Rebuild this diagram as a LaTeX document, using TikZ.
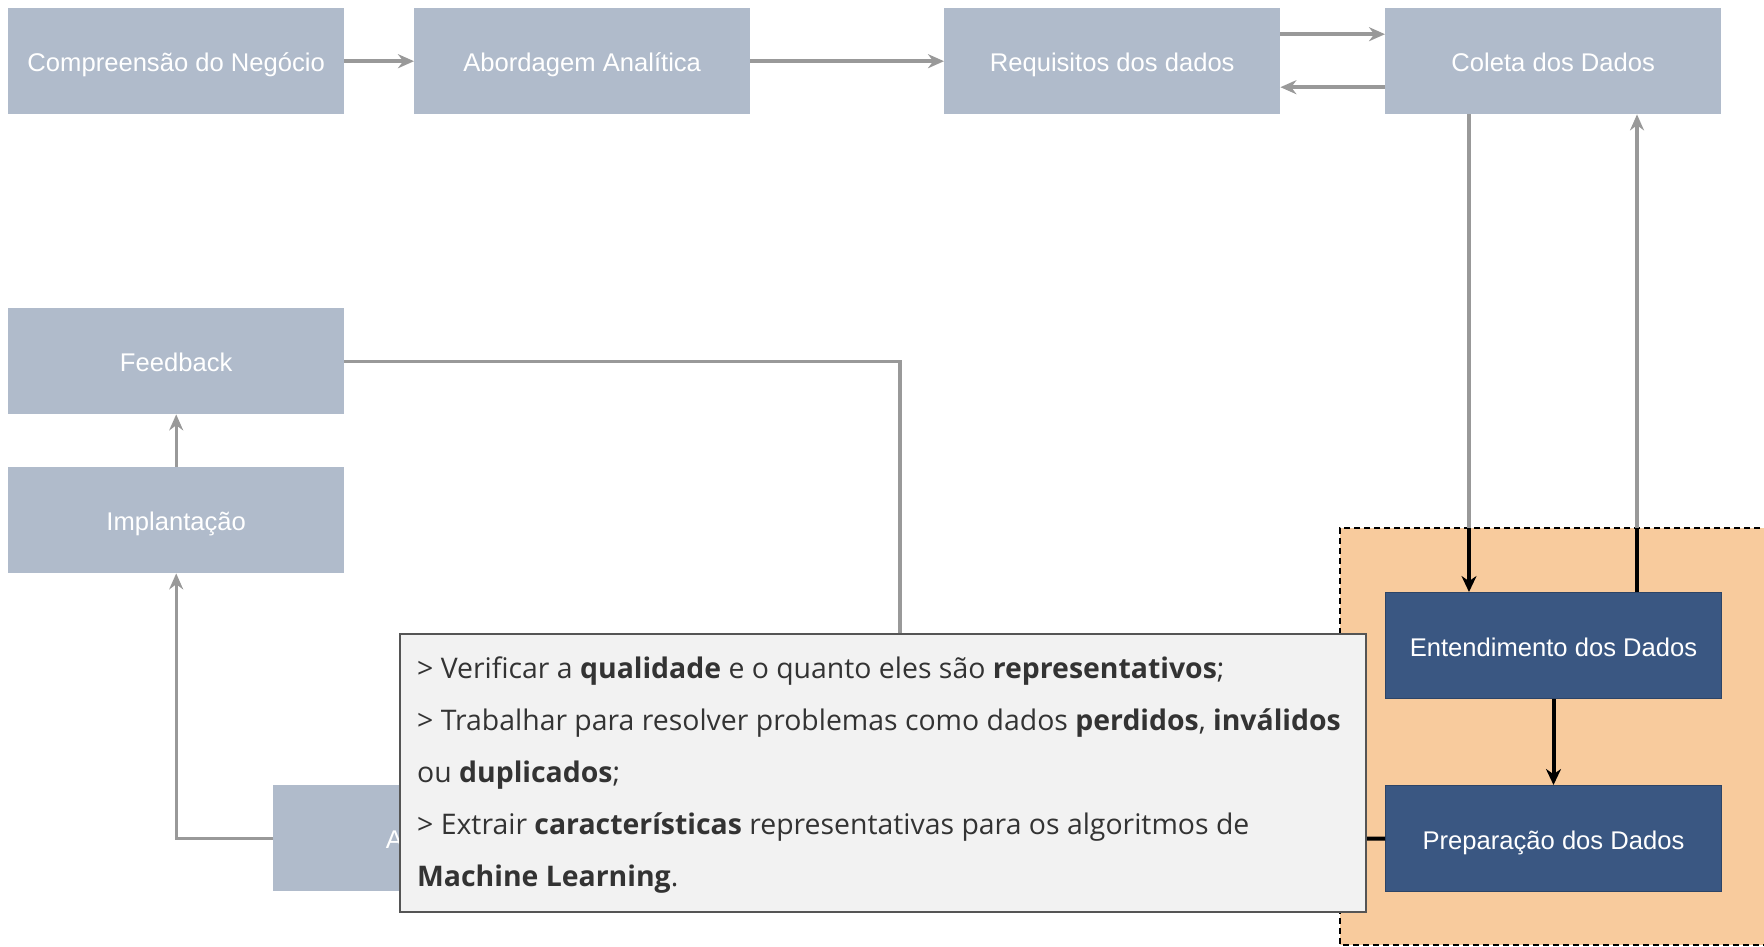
\documentclass[tikz,border=0pt]{standalone}
\usepackage{fontspec}
\setmainfont{Liberation Sans}
\newfontfamily\tipfont{Open Sans}
\usetikzlibrary{arrows.meta}
\definecolor{boxgrey}{HTML}{B0BBCB}
\definecolor{edgegrey}{HTML}{999999}
\definecolor{darkblue}{HTML}{3A5782}
\definecolor{darkbluebd}{HTML}{2D4466}
\definecolor{orangebg}{HTML}{F8CB9D}
\definecolor{tipfill}{HTML}{F2F2F2}
\definecolor{tipborder}{HTML}{555555}
\definecolor{tiptext}{HTML}{333333}
\tikzset{
  greybox/.style={fill=boxgrey, draw=none, text=white, anchor=north west, inner sep=0pt,
    minimum width=336pt, minimum height=106pt, font=\fontsize{25.6}{30}\selectfont,
    text height=21pt, text depth=0pt},
  bluebox/.style={fill=darkblue, draw=darkbluebd, line width=1pt, text=white, anchor=north west, inner sep=0pt,
    minimum width=336pt, minimum height=106pt, font=\fontsize{25.6}{30}\selectfont,
    text height=21pt, text depth=0pt},
  greyline/.style={draw=edgegrey, line width=3.4pt},
  greyarrow/.style={greyline, -{Stealth[length=16pt,width=14pt]}},
  blackline/.style={draw=black, line width=4pt},
  blackarrow/.style={blackline, -{Stealth[length=16pt,width=15pt]}},
}
\begin{document}
\begin{tikzpicture}[x=1pt,y=-1pt]
\useasboundingbox (0,0) rectangle (1764,947);
% orange region
\fill[orangebg] (1340,528) rectangle (1764,945);
\draw[black, line width=2pt, dash pattern=on 6pt off 4pt] (1770,528) -- (1340,528) -- (1340,945) -- (1770,945);

% nodes
\node[greybox] (comp) at (8,8) {Compreensão do Negócio};
\node[greybox] (abord) at (414,8) {Abordagem Analítica};
\node[greybox] (req) at (944,8) {Requisitos dos dados};
\node[greybox] (col) at (1385,8) {Coleta dos Dados};
\node[greybox] (feed) at (8,308) {Feedback};
\node[greybox] (impl) at (8,467) {Implantação};
\node[greybox] (aval) at (273,785) {Avaliação};
\node[bluebox] (ent) at (1385,592) {Entendimento dos Dados};
\node[bluebox] (prep) at (1385,785) {Preparação dos Dados};

% coordinates
\coordinate (c1) at (1469,528);
\coordinate (c2) at (1637,528);
\coordinate (fb) at (900,700);

% top row connectors
\draw[greyarrow] (comp.east) -- (abord.west);
\draw[greyarrow] (abord.east) -- (req.west);
\draw[greyarrow] ([yshift=27pt]req.east) -- ([yshift=27pt]col.west);
\draw[greyarrow] ([yshift=-26pt]col.west) -- ([yshift=-26pt]req.east);

% Coleta <-> Entendimento
\draw[greyline] (col.south -| c1) -- (c1);
\draw[blackarrow] (c1) -- (ent.north -| c1);
\draw[blackline] (ent.north -| c2) -- (c2);
\draw[greyarrow] (c2) -- (col.south -| c2);

% Entendimento -> Preparacao
\draw[blackarrow] (ent.south) -- (prep.north);
\draw[blackline] (prep.west) -- (aval.east);

% left column
\draw[greyarrow] (aval.west) -| (impl.south);
\draw[greyarrow] (impl.north) -- (feed.south);
\draw[greyline] (feed.east) -| (fb);

% tooltip
\node[fill=tipfill, draw=tipborder, line width=2pt, anchor=north west, inner sep=0pt,
  minimum width=966pt, minimum height=278pt] (tip) at (399,633) {};
\node[anchor=base west, inner sep=0pt, align=left, text=tiptext,
  font=\tipfont\fontsize{28.4}{52}\selectfont] (tiptxt) at (417,886)
  {> Verificar a \textbf{qualidade} e o quanto eles são \textbf{representativos};\\
   > Trabalhar para resolver problemas como dados \textbf{perdidos}, \textbf{inválidos}\\
   ou \textbf{duplicados};\\
   > Extrair \textbf{características} representativas para os algoritmos de\\
   \textbf{Machine Learning}.};
\end{tikzpicture}
\end{document}
